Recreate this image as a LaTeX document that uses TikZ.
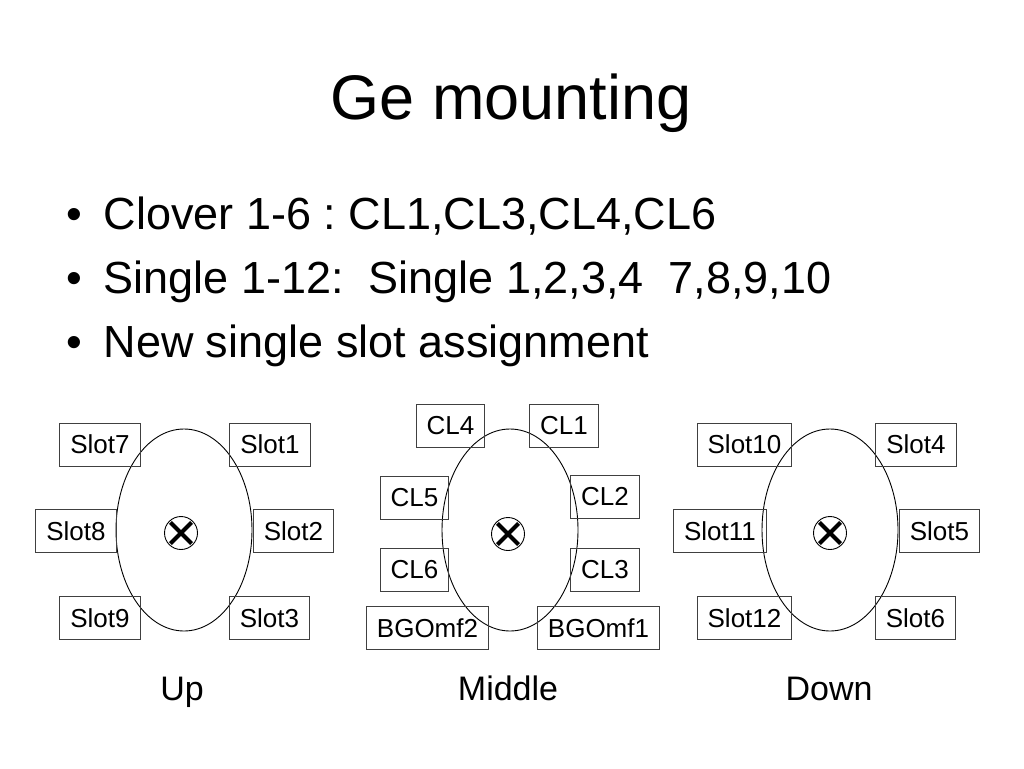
\documentclass[tikz,border=0pt]{standalone}
\usepackage{fontspec}
\setmainfont{Liberation Sans}
\usetikzlibrary{shapes.geometric,shapes.misc}
\frenchspacing

\tikzset{
  slotbox/.style={draw=black!75,line width=1pt,inner xsep=10.5pt,inner ysep=0pt,
    minimum height=43pt,font=\fontsize{26}{26}\selectfont},
  detector/.style={ellipse,draw,line width=0.9pt,minimum width=136pt,minimum height=202pt,inner sep=0pt},
  beamring/.style={circle,draw,line width=0.9pt,minimum size=33pt,inner sep=0pt},
  beamcross/.style={cross out,draw,line width=4.2pt,minimum size=17pt,inner sep=0pt},
  bulletline/.style={anchor=base west,font=\fontsize{45}{45}\selectfont},
  caption/.style={anchor=base,font=\fontsize{34}{34}\selectfont}
}

\begin{document}
\begin{tikzpicture}[x=1pt,y=-1pt]
  \useasboundingbox (0,0) rectangle (1024,768);

  % title and bullets
  \node[anchor=base,font=\fontsize{63}{63}\selectfont] (title) at (511,119) {Ge mounting};
  \begin{scope}[every node/.style={bulletline}]
    \node (b1) at (63,229) {•};
    \node (b2) at (63,293) {•};
    \node (b3) at (63,357) {•};
    \node (t1) at (100,229) {Clover 1-6 : CL1,CL3,CL4,CL6};
    \node (t2) at (100,293) {Single 1-12:\ \ Single 1,2,3,4\ \ 7,8,9,10};
    \node (t3) at (100,357) {New single slot assignment};
  \end{scope}

  % detectors
  \node[detector] (up)  at (184,530) {};
  \node[detector] (mid) at (510,530) {};
  \node[detector] (dn)  at (830,530) {};

  \node[beamring] (xu) at (181,533) {};
  \node[beamring] (xm) at (508,534) {};
  \node[beamring] (xd) at (830,533) {};
  \foreach \c in {xu,xm,xd}
    \node[beamcross] at (\c) {};

  \begin{scope}[every node/.style={slotbox}]
    % up
    \node (s7) at (100,444.5)   {Slot7};
    \node (s1) at (270,444.5)   {Slot1};
    \node (s8) at (76,531)      {Slot8};
    \node (s2) at (293.5,531)   {Slot2};
    \node (s9) at (100,618)     {Slot9};
    \node (s3) at (269.5,618)   {Slot3};
    % middle
    \node (cl4) at (450.5,426)  {CL4};
    \node (cl1) at (564,426)    {CL1};
    \node (cl5) at (414.5,498)  {CL5};
    \node (cl2) at (605,497)    {CL2};
    \node (cl6) at (414.5,569.5) {CL6};
    \node (cl3) at (605,569.5)  {CL3};
    \node (bgo2) at (427.5,628) {BGOmf2};
    \node (bgo1) at (598.5,628) {BGOmf1};
    % down
    \node (s10) at (744.5,444.5) {Slot10};
    \node (s4)  at (916,444.5)   {Slot4};
    \node (s11) at (720,531)     {Slot11};
    \node (s5)  at (939.5,531)   {Slot5};
    \node (s12) at (744.5,618)   {Slot12};
    \node (s6)  at (915.5,618)   {Slot6};
  \end{scope}

  \begin{scope}[every node/.style={caption}]
    \node (lup)  at (182,700) {Up};
    \node (lmid) at (508,700) {Middle};
    \node (ldn)  at (829,700) {Down};
  \end{scope}

\end{tikzpicture}
\end{document}
